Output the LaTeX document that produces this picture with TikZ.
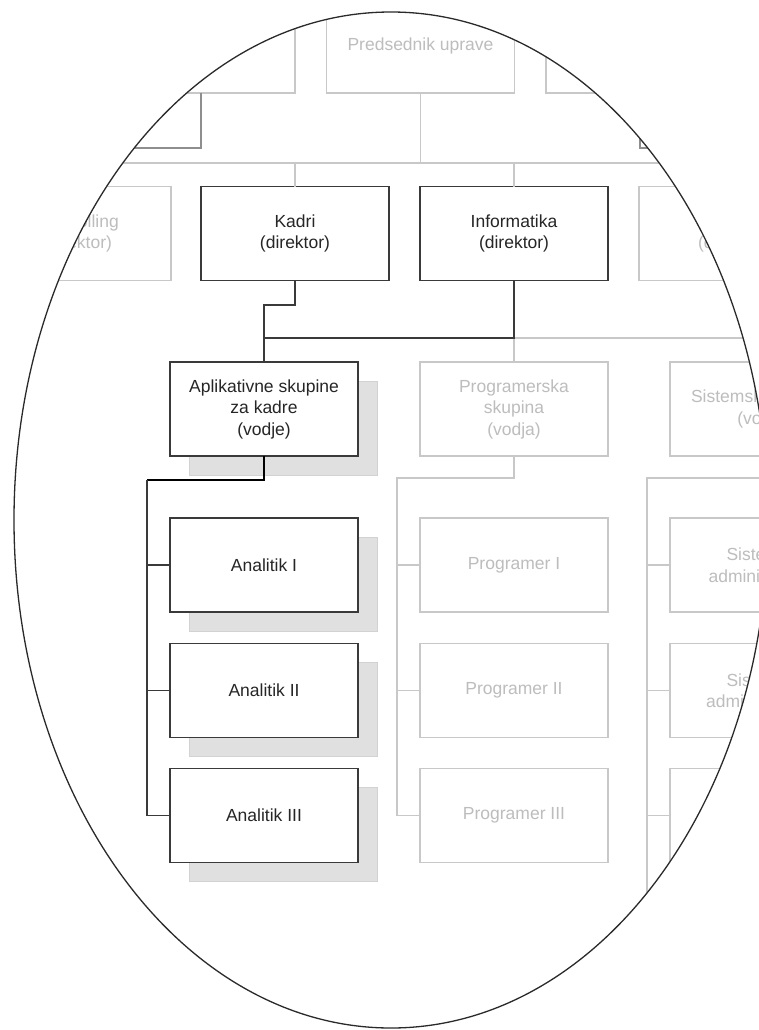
\documentclass[tikz,border=0pt]{standalone}
\usepackage{fontspec}
\setmainfont{Liberation Sans}
\usetikzlibrary{shadows}

\definecolor{faint}{HTML}{C8C8C8}
\definecolor{fainttext}{HTML}{BDBDBD}
\definecolor{ink}{HTML}{3A3A3A}
\definecolor{inktext}{HTML}{262626}
\definecolor{shade}{HTML}{E0E0E0}
\definecolor{shadeedge}{HTML}{D2D2D2}
\definecolor{midline}{HTML}{8E8E8E}
\definecolor{rim}{HTML}{2A2A2A}

\tikzset{
  unit/.style={rectangle, minimum width=188pt, minimum height=94pt, inner sep=0pt,
    outer sep=0pt, align=center, font=\fontsize{17.5}{21.5}\selectfont},
  active/.style={unit, draw=ink, line width=1.4pt, text=inktext, fill=white},
  faded/.style={unit, draw=faint, line width=1.1pt, text=fainttext, fill=white},
  shadowed/.style={general shadow={fill=shade, draw=shadeedge, line width=0.8pt,
    shadow xshift=19pt, shadow yshift=-19pt}},
  link/.style={draw=ink, line width=1.5pt},
  flink/.style={draw=faint, line width=1.1pt},
  sidelink/.style={draw=midline, line width=1.8pt},
  rimline/.style={draw=rim, line width=1.3pt},
}

\begin{document}
\begin{tikzpicture}[x=1pt,y=-1pt]
\useasboundingbox (0,0) rectangle (758,1030);
\fill[white] (0,0) rectangle (758,1030);

\begin{scope}
  \clip (391,520) ellipse [x radius=377pt, y radius=508pt];

  % board level
  \node[faded] (topL) at (201,46) {};
  \node[faded] (pres) at (420.5,46) {Predsednik uprave};
  \node[faded] (topR) at (640,46) {};

  % directors
  \node[faded]  (ctrl) at (77,233.5)  {Controlling\\(direktor)};
  \node[active] (kadri) at (295,233.5) {Kadri\\(direktor)};
  \node[active] (info) at (514,233.5) {Informatika\\(direktor)};
  \node[faded]  (fin) at (733,233.5)  {Finance\\(direktor)};

  % board connectors
  \coordinate (bus) at (420.5,163);
  \draw[flink] (pres.south) -- (bus);
  \draw[flink] (-20,163) -- (800,163);
  \draw[flink] (ctrl.north |- bus) -- (ctrl.north);
  \draw[flink] (kadri.north |- bus) -- (kadri.north);
  \draw[flink] (info.north |- bus) -- (info.north);
  \draw[flink] (fin.north |- bus) -- (fin.north);
  \coordinate (sideL) at (-20,148);
  \coordinate (sideR) at (800,148);
  \draw[sidelink] (topL.south) |- (sideL);
  \draw[sidelink] (topR.south) |- (sideR);

  % group leaders
  \node[active, shadowed] (apl) at (264,409) {Aplikativne skupine\\za kadre\\(vodje)};
  \node[faded] (prog) at (514,409) {Programerska\\skupina\\(vodja)};
  \node[faded] (sis) at (764,409) {Sistemska skupina\\(vodja)};

  % staff
  \node[active, shadowed] (an1) at (264,565)   {Analitik I};
  \node[active, shadowed] (an2) at (264,690.5) {Analitik II};
  \node[active, shadowed] (an3) at (264,815.5) {Analitik III};
  \node[faded] (pg1) at (514,565)   {Programer I};
  \node[faded] (pg2) at (514,690.5) {Programer II};
  \node[faded] (pg3) at (514,815.5) {Programer III};
  \node[faded] (sa1) at (764,565)   {Sistemski\\administrator I};
  \node[faded] (sa2) at (764,690.5) {Sistemski\\administrator II};
  \node[faded] (sa3) at (764,815.5) {Sistemski\\administrator III};

  % director to group connectors
  \coordinate (jog) at (264,305);
  \coordinate (mbus) at (264,338);
  \draw[flink] (info.south |- mbus) -- (800,338);
  \draw[flink] (info.south |- mbus) -- (prog.north);
  \draw[flink] (sis.north |- mbus) -- (sis.north);
  \draw[link] (kadri.south) |- (jog) -- (apl.north);
  \draw[link] (info.south) |- (mbus);

  % group to staff connectors
  \coordinate (aspine) at (147,480);
  \coordinate (pspine) at (397,478);
  \coordinate (sspine) at (647,478);
  \draw[link, line width=1.8pt, draw=black] (apl.south) |- (aspine);
  \draw[link] (aspine) |- (an3.west);
  \draw[link] (an1.west -| aspine) -- (an1.west);
  \draw[link] (an2.west -| aspine) -- (an2.west);
  \draw[flink] (prog.south) |- (pspine) |- (pg3.west);
  \draw[flink] (pg1.west -| pspine) -- (pg1.west);
  \draw[flink] (pg2.west -| pspine) -- (pg2.west);
  \draw[flink] (sis.south) |- (sspine) -- (647,1040);
  \draw[flink] (sa1.west -| sspine) -- (sa1.west);
  \draw[flink] (sa2.west -| sspine) -- (sa2.west);
  \draw[flink] (sa3.west -| sspine) -- (sa3.west);
\end{scope}

\draw[rimline] (391,520) ellipse [x radius=377pt, y radius=508pt];
\end{tikzpicture}
\end{document}
